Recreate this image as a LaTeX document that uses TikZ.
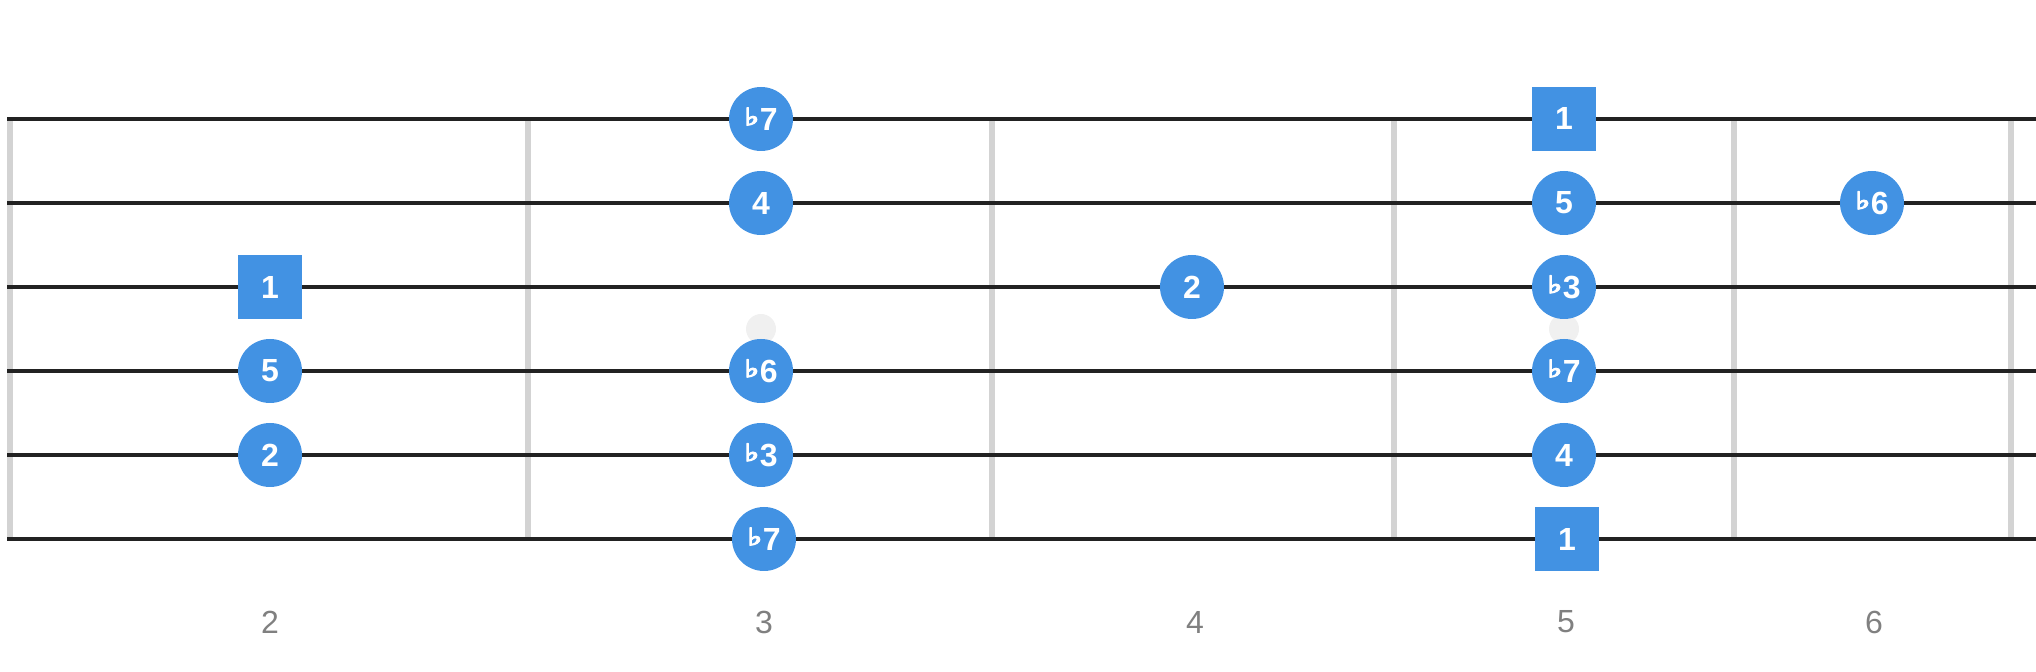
\documentclass[tikz,border=0pt]{standalone}
\usepackage{fontspec}
\setmainfont{Liberation Sans}
\newfontfamily\flatfont[FakeBold=5]{DejaVu Sans}
\definecolor{noteblue}{HTML}{4292E3}
\definecolor{fretgray}{HTML}{D3D3D3}
\definecolor{stringblack}{HTML}{222222}
\definecolor{inlaygray}{HTML}{F0F0F0}
\definecolor{numgray}{HTML}{808080}
\newcommand{\fl}{\raisebox{2.5pt}{\scalebox{1.3}[1]{\flatfont\fontsize{12}{12}\selectfont\char"266D}}\kern0.3pt}

\begin{document}
\begin{tikzpicture}
  [x=0.5pt,y=-0.5pt,
   note/.style={circle,fill=noteblue,text=white,minimum size=32pt,inner sep=0pt,
     font=\fontsize{16}{16}\selectfont\bfseries},
   root/.style={note,rectangle},
   fretno/.style={text=numgray,font=\fontsize{16}{16}\selectfont},
   fretline/.style={line width=3pt,fretgray},
   stringline/.style={line width=2pt,stringblack}]
  \useasboundingbox (0,0) rectangle (2036,672);

  % frets
  \foreach \x [count=\i] in {10,528,992,1394,1734,2011} {
    \coordinate (ft\i) at (\x,119);
    \coordinate (fb\i) at (\x,539);
    \draw[fretline] (ft\i) -- (fb\i);
  }
  % strings
  \foreach \y [count=\i] in {119,203,287,371,455,539} {
    \coordinate (sl\i) at (7,\y);
    \coordinate (sr\i) at (2036,\y);
    \draw[stringline] (sl\i) -- (sr\i);
  }
  % inlays
  \fill[inlaygray] (761,329) circle (7.5pt);
  \fill[inlaygray] (1564,329) circle (7.5pt);

  % fret 2
  \node[root] (a3) at (270,287) {1};
  \node[note] (a4) at (270,371) {5};
  \node[note] (a5) at (270,455) {2};
  % fret 3
  \node[note] (b1) at (761,119) {\fl7};
  \node[note] (b2) at (761,203) {4};
  \node[note] (b4) at (761,371) {\fl6};
  \node[note] (b5) at (761,455) {\fl3};
  \node[note] (b6) at (764,539) {\fl7};
  % fret 4
  \node[note] (c3) at (1192,287) {2};
  % fret 5
  \node[root] (d1) at (1564,119) {1};
  \node[note] (d2) at (1564,203) {5};
  \node[note] (d3) at (1564,287) {\fl3};
  \node[note] (d4) at (1564,371) {\fl7};
  \node[note] (d5) at (1564,455) {4};
  \node[root] (d6) at (1567,539) {1};
  % fret 6
  \node[note] (e2) at (1872,203) {\fl6};

  % fret numbers
  \node[fretno] (l2) at (270,622) {2};
  \node[fretno] (l3) at (764,622) {3};
  \node[fretno] (l4) at (1195,622) {4};
  \node[fretno] (l5) at (1566,622) {5};
  \node[fretno] (l6) at (1874,622) {6};
\end{tikzpicture}
\end{document}
